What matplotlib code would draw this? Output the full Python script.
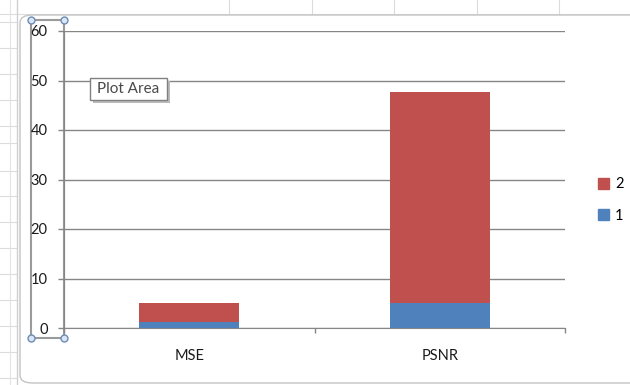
import matplotlib.pyplot as plt
from matplotlib.patches import FancyBboxPatch, Rectangle, Patch
from matplotlib.lines import Line2D

plt.rcParams['font.family'] = ['Lato', 'DejaVu Sans']

categories = ["MSE", "PSNR"]
series_1 = [1.2, 5.05]
series_2 = [3.85, 42.65]
series_names = ["1", "2"]
yticks = [0, 10, 20, 30, 40, 50, 60]

blue = "#4F81BD"
red = "#C0504D"
grid_col = "#868686"

W, H = 630, 385
fig = plt.figure(figsize=(6.3, 3.85), dpi=100)
fig.patch.set_facecolor("white")


def fx(px):
    return px / W


def fy(py):
    return 1 - py / H


# spreadsheet lines behind the chart
for x in [229, 312, 394, 477, 559]:
    fig.add_artist(Line2D([fx(x), fx(x)], [fy(0), fy(14)], color="#dcdcdc", lw=0.8, zorder=-3))
fig.add_artist(Line2D([0, 1], [fy(14), fy(14)], color="#dcdcdc", lw=0.8, zorder=-3))
for y in [22, 48, 74, 100, 126, 143, 171, 196, 222, 248, 274, 300, 326, 352, 378]:
    fig.add_artist(Line2D([fx(0), fx(17)], [fy(y), fy(y)], color="#dcdcdc", lw=0.8, zorder=-3))
fig.add_artist(Line2D([fx(10), fx(10)], [0, 1], color="#e4e4e4", lw=0.8, zorder=-3))
fig.add_artist(Line2D([fx(17), fx(17)], [0, 1], color="#d0d0d0", lw=1.0, zorder=-3))

# chart frame
frame = FancyBboxPatch((fx(20), fy(383)), fx(700) - fx(20), fy(15) - fy(383),
                       boxstyle="round,pad=0,rounding_size=0.02",
                       transform=fig.transFigure, facecolor="white",
                       edgecolor="#c4c4c4", lw=1.0, zorder=-2)
fig.add_artist(frame)

# plot area selection box (under the tick labels)
sel = Rectangle((fx(31), fy(338)), fx(64) - fx(31), fy(20) - fy(338),
                transform=fig.transFigure, fill=False, edgecolor="#9a9a9a", lw=1.5, zorder=-1)
fig.add_artist(sel)

ax = fig.add_axes([fx(64), fy(328), fx(565) - fx(64), fy(31) - fy(328)])
ax.set_facecolor("none")

x = range(len(categories))
ax.bar(x, series_1, width=0.4, color=blue, zorder=3)
ax.bar(x, series_2, width=0.4, bottom=series_1, color=red, zorder=3)

ax.set_xlim(-0.5, 1.5)
ax.set_ylim(0, 60)
ax.set_yticks(yticks)
ax.yaxis.grid(True, color=grid_col, lw=1.0, zorder=0)
ax.set_axisbelow(True)
ax.tick_params(axis="y", length=4.3, color=grid_col, width=1.0, pad=7.5,
               labelsize=10.5, labelcolor="#1a1a1a")

ax.set_xticks([-0.5, 0.5, 1.5])
ax.set_xticklabels([])
ax.set_xticks(list(x), minor=True)
ax.set_xticklabels(categories, minor=True)
ax.tick_params(axis="x", which="major", length=3.6, color=grid_col, width=1.0)
ax.tick_params(axis="x", which="minor", length=0, pad=15, labelsize=10.5,
               labelcolor="#1a1a1a")

for s in ["top", "right"]:
    ax.spines[s].set_visible(False)
ax.spines["bottom"].set_color(grid_col)
ax.spines["left"].set_color(grid_col)

# legend
handles = [Patch(color=red), Patch(color=blue)]
fig.legend(handles, [series_names[1], series_names[0]], loc="center left",
           bbox_to_anchor=(fx(585), fy(200)), frameon=False, fontsize=10.5,
           handlelength=0.75, handleheight=0.75, handletextpad=0.4,
           labelspacing=1.2)

for cx, cy in [(31, 20), (64, 20), (31, 338), (64, 338)]:
    fig.add_artist(Line2D([fx(cx)], [fy(cy)], marker="o", markersize=5,
                          markerfacecolor="#dce6f2", markeredgecolor="#6a8cb8",
                          markeredgewidth=1.0, zorder=6))

# "Plot Area" tooltip
shadow = Rectangle((fx(93), fy(103)), fx(170) - fx(93), fy(81) - fy(103),
                   transform=fig.transFigure, facecolor="#bbbbbb", edgecolor="none", zorder=5)
fig.add_artist(shadow)
tip = Rectangle((fx(90), fy(100)), fx(167) - fx(90), fy(78) - fy(100),
                transform=fig.transFigure, facecolor="white", edgecolor="#808080", lw=1.0, zorder=6)
fig.add_artist(tip)
fig.text(fx(128.5), fy(89), "Plot Area", ha="center", va="center",
         fontsize=11, color="#4a4a4a", zorder=7)

fig.savefig("out.png", dpi=100)
